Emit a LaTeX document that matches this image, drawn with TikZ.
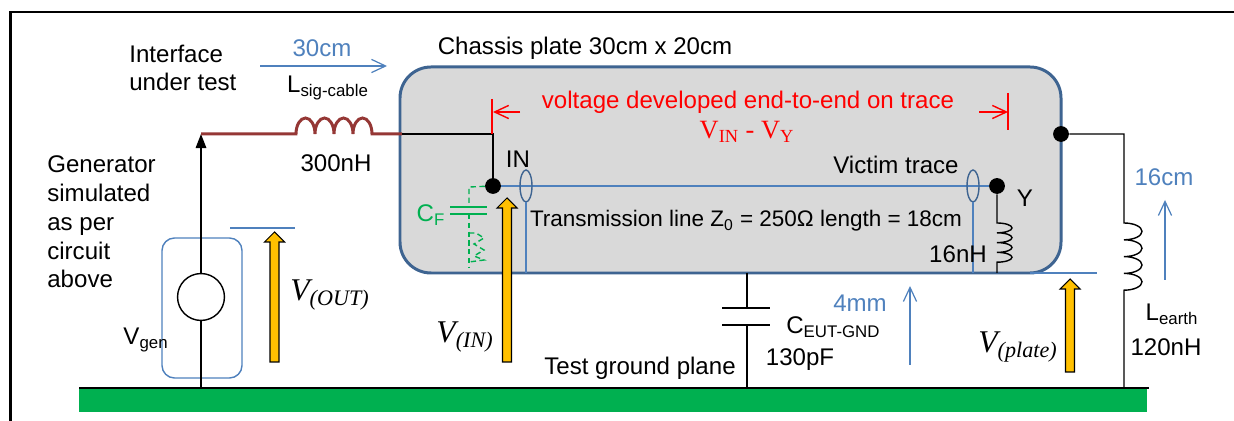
\documentclass[tikz,border=0pt]{standalone}
\usepackage{fontspec}
\setmainfont{Liberation Sans}
\newfontfamily\timesfont{Liberation Serif}
\usetikzlibrary{arrows.meta}

\definecolor{plategray}{RGB}{217,217,217}
\definecolor{plateblue}{RGB}{62,100,145}
\definecolor{dimblue}{RGB}{79,129,189}
\definecolor{cablebrown}{RGB}{149,55,53}
\definecolor{gndgreen}{RGB}{0,176,80}
\definecolor{voltorange}{RGB}{255,192,0}

\tikzset{
  wire/.style={line width=0.8pt},
  cable/.style={cablebrown, line width=1.7pt},
  trace/.style={dimblue, line width=1.2pt},
  probe/.style={plateblue, line width=0.8pt},
  dimline/.style={dimblue, line width=0.7pt},
  dimarrow/.style={dimline, -{Straight Barb[length=8pt,width=7.5pt]}},
  redmark/.style={red, line width=0.8pt},
  cfline/.style={gndgreen, line width=0.8pt, dash pattern=on 3pt off 2pt},
  junction/.style={circle, fill, inner sep=0pt, minimum size=9pt},
  voltarrow/.style={fill=voltorange, draw=black, line width=0.6pt},
  vlabel/.style={font=\timesfont\itshape\fontsize{18}{20}\selectfont, inner sep=0pt},
}
\newcommand\voltagearrow[3]{% x, bottom, tip
  \draw[voltarrow] (#1-4.5,#2) -- (#1-4.5,#3+10) -- (#1-10,#3+10) -- (#1,#3)
    -- (#1+10,#3+10) -- (#1+4.5,#3+10) -- (#1+4.5,#2) -- cycle;}

\begin{document}
\begin{tikzpicture}[x=0.02cm, y=-0.02cm, font=\fontsize{13.7}{16.4}\selectfont,
  every node/.append style={inner sep=0pt}]
\useasboundingbox (0,0) rectangle (1234,421);

% frame and ground plane
\draw[line width=1.2pt] (10.5,421) -- (10.5,12) -- (1234,12);
\fill[gndgreen] (79,388) rectangle (1147,412);
\draw[line width=1.3pt] (79,388) -- (1149,388);

% chassis plate
\draw[plateblue, fill=plategray, line width=1.7pt, rounded corners=0.62cm]
  (400,67) rectangle (1061,273);

% points
\coordinate (gentop) at (201,134);
\coordinate (genbot) at (201,388);
\coordinate (inwire) at (493,134);
\coordinate (ctop) at (747,273);
\coordinate (cbot) at (747,388);
\node[junction] (in) at (493,186) {};
\node[junction] (y) at (997,186) {};
\node[junction] (earth) at (1061,134) {};
\node[draw, circle, wire, minimum size=26.7pt] (gen) at (201,297) {};

% generator
\draw[dimblue, line width=0.8pt, rounded corners=0.25cm] (162,238) rectangle (242,378);
\draw[wire] (genbot) -- (gen);
\draw[wire, -{Triangle[length=8pt,width=6pt]}] (gen) -- (gentop);

% signal cable
\draw[cable] (gentop) -- (296,134)
  arc[start angle=180, end angle=360, x radius=9.5, y radius=16]
  arc[start angle=180, end angle=360, x radius=9.5, y radius=16]
  arc[start angle=180, end angle=360, x radius=9.5, y radius=16]
  arc[start angle=180, end angle=360, x radius=9.5, y radius=16] -- (402,134);
\draw[wire, line width=1.1pt] (402,134) -- (inwire) -- (in);

% victim trace
\draw[trace] (in) -- (y);
\draw[probe] (526,186) ellipse [x radius=6, y radius=16];
\draw[probe] (973,186) ellipse [x radius=6, y radius=16];
\draw[dimline] (526,202) -- (526,273);
\draw[dimline] (973,202) -- (973,273);
\draw[wire] (y) -- (997,223)
  arc[start angle=-90, end angle=90, x radius=15, y radius=4.9]
  arc[start angle=-90, end angle=90, x radius=15, y radius=4.9]
  arc[start angle=-90, end angle=90, x radius=15, y radius=4.9]
  arc[start angle=-90, end angle=90, x radius=15, y radius=4.9] -- (997,273);

% C_F
\draw[cfline] (in) -- (469,187) -- (469,207);
\draw[gndgreen, line width=1.6pt] (450,207) -- (487,207) (450,214) -- (487,214);
\draw[cfline] (469,214) -- (469,268);
\draw[cfline] (469,233) -- (476,233) -- (484,238) -- (474,244) -- (484,250)
  -- (474,256) -- (484,260) -- (469,262);

% C_EUT-GND
\draw[wire] (ctop) -- (747,308) (747,325) -- (cbot);
\draw[line width=1.6pt] (722,308) -- (770,308) (722,325) -- (770,325);

% earth strap
\draw[wire] (earth) -- (1124,134) -- (1124,223)
  arc[start angle=-90, end angle=90, x radius=18, y radius=8.4]
  arc[start angle=-90, end angle=90, x radius=18, y radius=8.4]
  arc[start angle=-90, end angle=90, x radius=18, y radius=8.4]
  arc[start angle=-90, end angle=90, x radius=18, y radius=8.4] -- (1124,388);

% end-to-end markers
\draw[redmark] (492,99) -- (492,134);
\draw[redmark, -{Straight Barb[length=8pt,width=7.5pt]}] (520,112) -- (493,112);
\draw[redmark] (1008,93) -- (1008,130);
\draw[redmark, -{Straight Barb[length=8pt,width=7.5pt]}] (979,112) -- (1008,112);

% dimensions
\draw[dimarrow] (260,66) -- (387,66);
\draw[dimarrow] (910,365) -- (910,286);
\draw[dimarrow] (1165,280) -- (1165,200);
\draw[dimline] (230,228) -- (295,228);
\draw[dimline] (1030,273) -- (1097,273);

% voltages
\voltagearrow{274.5}{362}{232}
\voltagearrow{507}{362}{198}
\voltagearrow{1070}{372}{279}

% labels
\node[anchor=west, align=left] (iface) at (129,68) {Interface\\under test};
\node[anchor=west, align=left] (genlabel) at (47,222) {Generator\\simulated\\as per\\circuit\\above};
\node (platelabel) at (585,48) {Chassis plate 30cm x 20cm};
\node[dimblue] (len30) at (322,48) {30cm};
\node (lsig) at (328,88) {L\textsubscript{sig-cable}};
\node (l300) at (336,163) {300nH};
\node (vgenlabel) at (146,340) {V\textsubscript{gen}};
\node[vlabel] (voutlabel) at (330,295) {V\textsubscript{(OUT)}};
\node[vlabel] (vinlabel) at (465,337) {V\textsubscript{(IN)}};
\node[vlabel] (vplatelabel) at (1018,347) {V\textsubscript{(plate)}};
\node[red] (reddesc) at (748,102) {voltage developed end-to-end on trace};
\node[red, font=\timesfont\fontsize{15}{16}\selectfont] (vdiff) at (747,132)
  {V\textsubscript{IN} - V\textsubscript{Y}};
\node (inlabel) at (518,159) {IN};
\node (victim) at (896,165) {Victim trace};
\node (ylabel) at (1025,198) {Y};
\node[font=\fontsize{12.8}{15}\selectfont] (tracelabel) at (746,221)
  {Transmission line Z\textsubscript{0} = 250Ω length = 18cm};
\node (l16nh) at (958,254) {16nH};
\node[gndgreen] (cflabel) at (431,215) {C\textsubscript{F}};
\node[anchor=west] (ceut) at (786,327) {C\textsubscript{EUT-GND}};
\node (c130) at (800,360) {130pF};
\node (gndlabel) at (640,368) {Test ground plane};
\node[dimblue] (len4mm) at (860,303) {4mm};
\node[dimblue] (len16) at (1164,177) {16cm};
\node (learth) at (1172,314) {L\textsubscript{earth}};
\node (l120) at (1166,347) {120nH};
\end{tikzpicture}
\end{document}
